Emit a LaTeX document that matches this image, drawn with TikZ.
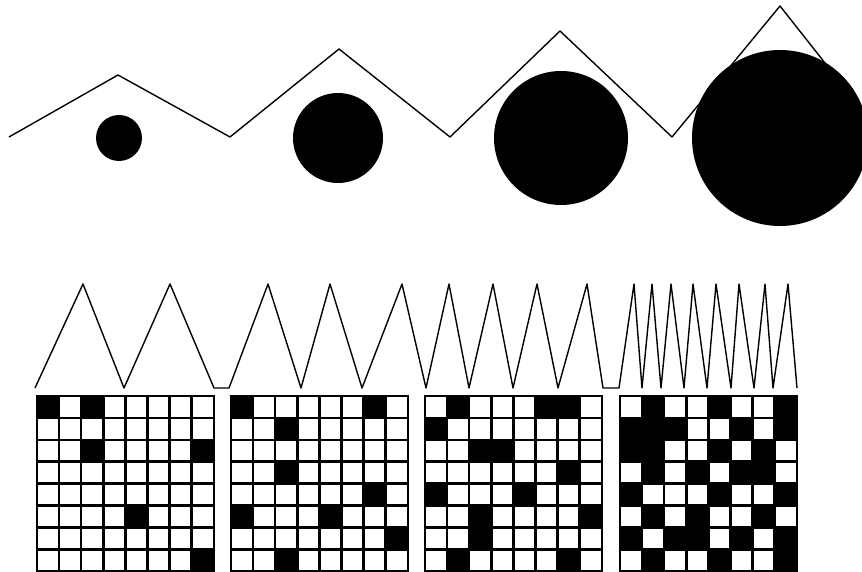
\documentclass[tikz,border=0pt]{standalone}
\usetikzlibrary{calc}
\begin{document}
\begin{tikzpicture}[x=1pt, y=-1pt,
      wave/.style={line width=1.4pt, line join=round},
      cellgrid/.style={line width=2.5pt, line cap=rect},
      blob/.style={fill=black}]
    \useasboundingbox (0,0) rectangle (862,572);
    % carrier with growing amplitude
    \draw[wave] (9,137) -- (118,75) -- (230,137) -- (339,49) -- (450,137)
      -- (560,31) -- (672,137) -- (780,6) -- (866,115);
    % dots of growing size
    \foreach \cx/\rr in {119/23, 338/45, 561/67, 780/88}
      \fill[blob] (\cx,138) circle[radius=\rr];
    % triangle waves of growing frequency
    \draw[wave] (35,388)
      \foreach \p/\v in {83/124, 170/214} { -- (\p,284) -- (\v,388) }
      -- (229,388)
      \foreach \p/\v in {268/301, 330/362, 402/426, 449/469, 493/513, 537/558, 587/603} { -- (\p,284) -- (\v,388) }
      -- (619,388)
      \foreach \p/\v in {634/642, 652/661, 671/684, 693/707, 716/731, 739/754, 765/773, 788/797} { -- (\p,284) -- (\v,388) };
    % pixel grids, black cells given as row/column
    \foreach \gx/\cells in {
        37/{0/0,0/2,2/2,2/7,5/4,7/7},
        231/{0/0,0/6,1/2,3/2,4/6,5/0,5/4,6/7,7/2},
        425/{0/1,0/5,0/6,1/0,2/2,2/3,3/6,4/0,4/4,5/2,5/7,6/2,7/1,7/6},
        620/{0/1,0/4,0/7,1/0,1/1,1/2,1/5,1/7,2/0,2/1,2/4,2/6,3/1,3/3,3/5,3/6,
             4/0,4/4,4/7,5/1,5/3,5/6,6/0,6/2,6/3,6/5,6/7,7/1,7/4,7/7}}{
      \foreach \r/\c in \cells
        \fill ({\gx+22.1*\c},{396+21.9*\r}) rectangle ++(22.1,21.9);
      \foreach \k in {0,...,8}{
        \draw[cellgrid] ({\gx+22.1*\k},396) -- ++(0,175.2);
        \draw[cellgrid] (\gx,{396+21.9*\k}) -- ++(176.8,0);
      }
    }
  \end{tikzpicture}
\end{document}
